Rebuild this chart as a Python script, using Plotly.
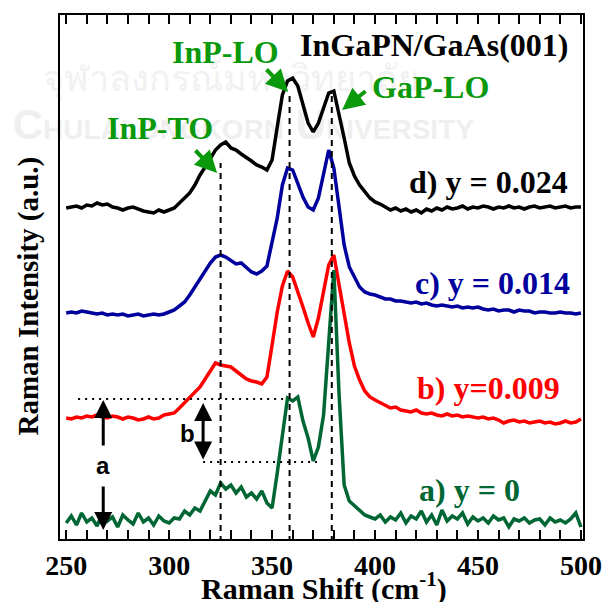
import plotly.graph_objects as go

# Raman shift sampling positions (cm^-1)
raman_shift = [
    250.0, 252.5, 255.0, 257.5, 260.0, 262.5, 265.0, 267.5, 270.0, 272.5,
    275.0, 277.5, 280.0, 282.5, 285.0, 287.5, 290.0, 292.5, 295.0, 297.5,
    300.0, 302.5, 305.0, 307.5, 310.0, 312.5, 315.0, 317.5, 320.0, 322.5,
    325.0, 327.5, 330.0, 332.5, 335.0, 337.5, 340.0, 342.5, 345.0, 347.5,
    350.0, 352.5, 355.0, 357.5, 360.0, 362.5, 365.0, 367.5, 370.0, 372.5,
    375.0, 377.5, 380.0, 382.5, 385.0, 387.5, 390.0, 392.5, 395.0, 397.5,
    400.0, 402.5, 405.0, 407.5, 410.0, 412.5, 415.0, 417.5, 420.0, 422.5,
    425.0, 427.5, 430.0, 432.5, 435.0, 437.5, 440.0, 442.5, 445.0, 447.5,
    450.0, 452.5, 455.0, 457.5, 460.0, 462.5, 465.0, 467.5, 470.0, 472.5,
    475.0, 477.5, 480.0, 482.5, 485.0, 487.5, 490.0, 492.5, 495.0, 497.5,
    500.0,
]

# d) y = 0.024 (offset spectrum)
intensity_d = [
    355, 356, 357, 355, 358, 357, 360, 358, 359, 356,
    355, 353, 355, 356, 354, 352, 351, 350, 353, 351,
    353, 355, 360, 365, 370, 378, 388, 396, 405, 413,
    418, 421, 415, 413, 409, 406, 402, 398, 396, 393,
    403, 436, 468, 482, 485, 477, 457, 440, 431, 440,
    455, 470, 472, 450, 425, 400, 387, 378, 371, 365,
    361, 359, 356, 353, 355, 352, 354, 351, 353, 350,
    354, 352, 355, 353, 356, 354, 355, 357, 354, 356,
    355, 357, 356, 354, 356, 355, 357, 355, 356, 354,
    356, 357, 355, 356, 357, 355, 356, 357, 355, 356,
    356,
]

# c) y = 0.014
intensity_c = [
    250, 251, 250, 252, 251, 250, 249, 250, 248, 249,
    248, 249, 247, 248, 249, 247, 248, 249, 248, 249,
    251, 253, 257, 261, 268, 276, 284, 292, 300, 306,
    308, 306, 303, 299, 300, 296, 291, 289, 292, 297,
    322, 345, 378, 395, 393, 380, 366, 356, 353, 365,
    390, 413, 395, 355, 318, 296, 285, 276, 271, 269,
    268, 266, 264, 264, 262, 262, 261, 260, 261, 259,
    260, 258, 257, 258, 257, 256, 257, 255, 256, 255,
    256, 254, 253, 254, 252, 253, 253, 251, 253, 252,
    252, 250, 251, 251, 250, 250, 251, 250, 250, 249,
    250,
]

# b) y = 0.009
intensity_b = [
    145, 144, 146, 145, 147, 146, 148, 146, 145, 147,
    146, 144, 146, 145, 143, 144, 146, 144, 145, 148,
    149, 150, 155, 160, 165, 170, 176, 184, 192, 200,
    198, 197, 196, 192, 188, 184, 182, 181, 179, 186,
    218, 251, 277, 292, 286, 272, 256, 240, 226, 245,
    270, 298, 308, 278, 248, 220, 197, 183, 172, 166,
    163, 160, 158, 155, 156, 153, 152, 151, 153, 150,
    149, 150, 148, 147, 149, 147, 148, 146, 147, 146,
    145, 146, 144, 145, 143, 140, 142, 143, 141, 142,
    140, 141, 142, 140, 141, 139, 140, 142, 140, 141,
    144,
]

# a) y = 0
intensity_a = [
    40, 47, 38, 50, 41, 45, 37, 49, 42, 46,
    36, 48, 43, 39, 50, 41, 45, 38, 47, 42,
    40, 45, 44, 52, 48, 55, 52, 62, 72, 68,
    80, 74, 78, 70, 76, 66, 70, 64, 72, 60,
    55, 90, 128, 165, 162, 166, 142, 125, 102, 116,
    148, 225, 293, 170, 78, 62, 57, 52, 48, 46,
    44, 48, 41, 46, 43, 50, 40, 47, 44, 52,
    41, 48, 38, 53, 42, 47, 44, 50, 39, 46,
    42, 45, 40, 47, 43, 45, 36, 44, 42, 45,
    40, 43, 44, 38, 45, 41, 43, 40, 44, 50,
    36,
]

series_labels = ["d) y = 0.024", "c) y = 0.014", "b) y=0.009", "a) y = 0"]
series_colors = ["#000000", "#00009c", "#ff0000", "#006633"]

# Phonon mode positions (cm^-1) and peak labels
mode_positions = [325.0, 358.5, 379.0]
mode_line_tops = [400, 471, 468]
mode_labels = ["InP-TO", "InP-LO", "GaP-LO"]

SERIF = "Liberation Serif"
SANS = "Liberation Sans"
GREEN = "#0a990a"
Y_MIN, Y_MAX = 24, 548

fig = go.Figure()

# faint background watermark, drawn first so the spectra sit on top
fig.add_trace(go.Scatter(
    x=[330.0], y=[481], mode="text", cliponaxis=False,
    text=["จุฬาลงกรณ์มหาวิทยาลัย"],
    textfont=dict(family="Noto Sans, DejaVu Sans", size=36, color="#f1f1f1"),
    hoverinfo="skip", showlegend=False,
))
fig.add_trace(go.Scatter(
    x=[336.0], y=[435], mode="text", cliponaxis=False,
    text=["C<span style='font-size:28px'>HULALONGKORN</span> "
          "U<span style='font-size:28px'>NIVERSITY</span>"],
    textfont=dict(family=SANS, size=42, color="#efefef", weight="bold"),
    hoverinfo="skip", showlegend=False,
))

for values, color in zip([intensity_d, intensity_c, intensity_b, intensity_a], series_colors):
    fig.add_trace(go.Scatter(
        x=raman_shift, y=values, mode="lines",
        line=dict(color=color, width=3.5),
        hoverinfo="skip", showlegend=False,
    ))

shapes = []
# dashed guides at the phonon frequencies
for pos, top in zip(mode_positions, mode_line_tops):
    shapes.append(dict(type="line", xref="x", yref="y", x0=pos, x1=pos, y0=Y_MIN - 3, y1=top,
                       line=dict(color="black", width=2, dash="6px,5px"), layer="above"))
# dotted reference levels used for the a / b intensity measures
shapes.append(dict(type="line", xref="x", yref="y", x0=255.8, x1=356.3, y0=164, y1=164,
                   line=dict(color="black", width=2, dash="2px,5px")))
shapes.append(dict(type="line", xref="x", yref="y", x0=316.5, x1=371.8, y0=101, y1=101,
                   line=dict(color="black", width=2, dash="2px,5px")))

annotations = []
# series labels
label_pos = [(494.7, 381), (495.6, 280), (490.8, 175), (471.4, 73)]
for text, color, (lx, ly) in zip(series_labels, series_colors, label_pos):
    annotations.append(dict(x=lx, y=ly, xref="x", yref="y", text=text, showarrow=False,
                            xanchor="right", yanchor="middle",
                            font=dict(family=SERIF, size=32, color=color, weight="bold")))
annotations.append(dict(x=494.7, y=518, xref="x", yref="y", text="InGaPN/GaAs(001)",
                        showarrow=False, xanchor="right", yanchor="middle",
                        font=dict(family=SERIF, size=32, color="black", weight="bold")))

# mode labels with green pointers
mode_text_pos = [(295.6, 435), (327.2, 511), (426.7, 476)]
mode_arrows = [((312.1, 414), (323.3, 390)),
               ((346.6, 495), (357.8, 471)),
               ((396.1, 473), (384.0, 453))]
for text, (tx, ty), ((ax, ay), (hx, hy)) in zip(mode_labels, mode_text_pos, mode_arrows):
    annotations.append(dict(x=tx, y=ty, xref="x", yref="y", text=text, showarrow=False,
                            xanchor="center", yanchor="middle",
                            font=dict(family=SERIF, size=32, color=GREEN, weight="bold")))
    annotations.append(dict(x=hx, y=hy, ax=ax, ay=ay, xref="x", yref="y", axref="x", ayref="y",
                            text="", showarrow=True, arrowhead=2, arrowsize=1.1,
                            arrowwidth=4, arrowcolor=GREEN, standoff=0, startstandoff=0))

# "a" measure: two arrows with the letter between them
annotations.append(dict(x=268.0, y=163, ax=268.0, ay=116, xref="x", yref="y", axref="x", ayref="y",
                        text="", showarrow=True, arrowhead=2, arrowsize=1.2, arrowwidth=3,
                        arrowcolor="black"))
annotations.append(dict(x=268.0, y=33, ax=268.0, ay=78, xref="x", yref="y", axref="x", ayref="y",
                        text="", showarrow=True, arrowhead=2, arrowsize=1.2, arrowwidth=3,
                        arrowcolor="black"))
annotations.append(dict(x=268.0, y=98, xref="x", yref="y", text="a", showarrow=False,
                        xanchor="center", yanchor="middle",
                        font=dict(family=SANS, size=24, color="black", weight="bold")))
# "b" measure: double-headed arrow
annotations.append(dict(x=316.5, y=160, ax=316.5, ay=102, xref="x", yref="y", axref="x", ayref="y",
                        text="", showarrow=True, arrowhead=2, arrowsize=1.2, arrowwidth=3,
                        arrowside="end+start", startarrowhead=2, startarrowsize=1.2,
                        arrowcolor="black"))
annotations.append(dict(x=308.7, y=130, xref="x", yref="y", text="b", showarrow=False,
                        xanchor="center", yanchor="middle",
                        font=dict(family=SANS, size=24, color="black", weight="bold")))

# axis titles
annotations.append(dict(x=-0.061, y=0.463, xref="paper", yref="paper",
                        text="Raman Intensity (a.u.)", textangle=-90, showarrow=False,
                        xanchor="center", yanchor="middle",
                        font=dict(family=SERIF, size=29, color="black", weight="bold")))
annotations.append(dict(x=0.505, y=-0.09, xref="paper", yref="paper",
                        text="Raman Shift (cm<sup>-1</sup>)", showarrow=False,
                        xanchor="center", yanchor="middle",
                        font=dict(family=SERIF, size=30, color="black", weight="bold")))

fig.update_layout(
    width=603, height=602,
    margin=dict(l=60, r=20, t=15, b=63, autoexpand=False),
    paper_bgcolor="white", plot_bgcolor="white",
    shapes=shapes, annotations=annotations,
    showlegend=False,
)
fig.update_xaxes(
    range=[247.0, 501.0], tickmode="array", automargin=False,
    tickvals=[250, 300, 350, 400, 450, 500],
    ticktext=["250", "300", "350", "400", "450", "500"],
    ticks="inside", ticklen=9, tickwidth=2, tickcolor="black",
    minor=dict(dtick=10, tick0=250, ticks="inside", ticklen=9, tickwidth=2, tickcolor="black"),
    showline=True, linecolor="black", linewidth=2, mirror="allticks",
    showgrid=False, zeroline=False, ticklabelstandoff=0,
    tickfont=dict(family=SERIF, size=28, color="black", weight="bold"),
)
fig.update_yaxes(
    range=[Y_MIN, Y_MAX], showticklabels=False, ticks="", automargin=False,
    showline=True, linecolor="black", linewidth=2, mirror=True,
    showgrid=False, zeroline=False,
)

fig.write_html("out.html")
